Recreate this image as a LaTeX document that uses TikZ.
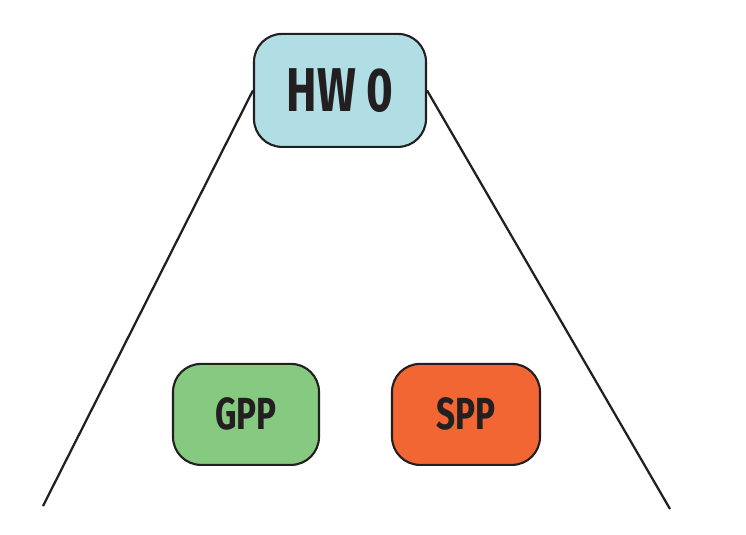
\documentclass[tikz,border=0pt]{standalone}
\usepackage{fontspec}
\setmainfont{Fira Sans}[FakeStretch=0.74]
\definecolor{hwblue}{RGB}{176,222,228}
\definecolor{gppgreen}{RGB}{134,201,129}
\definecolor{spporange}{RGB}{242,102,51}
\definecolor{inkblack}{RGB}{35,31,32}
\tikzset{
	unitbox/.style={shape=rectangle,rounded corners=0.7cm,draw=inkblack,line width=1.5pt,
		text=inkblack,font=\bfseries,inner sep=0pt},
	treeline/.style={draw=inkblack,line width=1.6pt}
}
\begin{document}
\begin{tikzpicture}
			\useasboundingbox (0,0) rectangle (18.65,13.35);
			
			\node[unitbox,fill=hwblue,minimum width=4.3cm,minimum height=2.825cm,font=\fontsize{44}{48}\bfseries] (hw) at (8.5,11.09) {HW 0};
			\node[unitbox,fill=gppgreen,minimum width=3.65cm,minimum height=2.525cm,font=\fontsize{32}{35}\bfseries] (gpp) at (6.15,2.99) {GPP};
			\node[unitbox,fill=spporange,minimum width=3.7cm,minimum height=2.525cm,font=\fontsize{32}{35}\bfseries] (spp) at (11.65,2.99) {SPP};
			
			\coordinate (lend) at (1.075,0.7);
			\coordinate (rend) at (16.75,0.625);
			\path [treeline] (hw.west) -- (lend);
			\path [treeline] (hw.east) -- (rend);
			
\end{tikzpicture}
\end{document}
